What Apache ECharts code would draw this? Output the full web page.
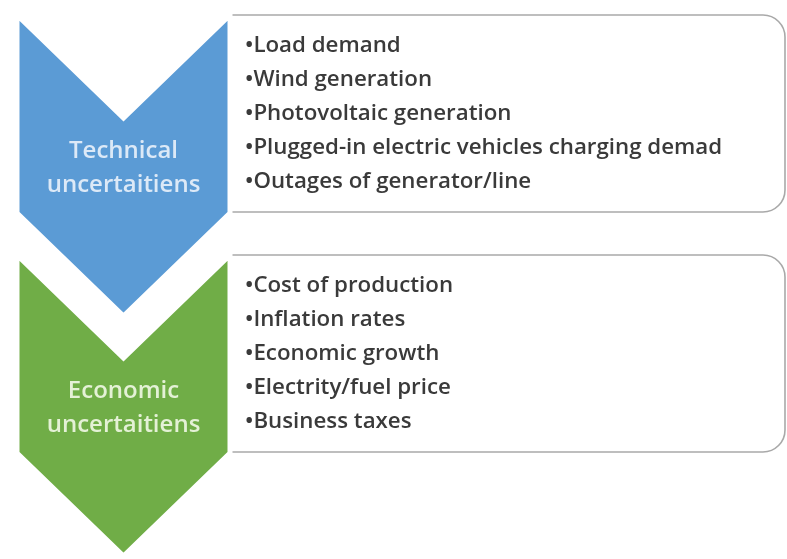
<!DOCTYPE html>
<html>
<head>
<meta charset="utf-8">
<script src="https://cdn.jsdelivr.net/npm/echarts@6/dist/echarts.min.js"></script>
<style>
  html, body { margin: 0; padding: 0; background: #fff; }
  #main { width: 787px; height: 559px; }
</style>
</head>
<body>
<div id="main"></div>
<script>
// 数据
var groupNames = ['Technical\nuncertaitiens', 'Economic\nuncertaitiens'];
var technicalItems = [
  'Load demand',
  'Wind generation',
  'Photovoltaic generation',
  'Plugged-in electric vehicles charging demad',
  'Outages of generator/line'
];
var economicItems = [
  'Cost of production',
  'Inflation rates',
  'Economic growth',
  'Electrity/fuel price',
  'Business taxes'
];
var groupItems = [technicalItems, economicItems];

// 样式
var fills = ['#5b9bd5', '#70ad47'];
var labelColors = ['#dce9f7', '#e4f1d6'];
var fontFamily = '"Open Sans", sans-serif';

var chart = echarts.init(document.getElementById('main'));

// 布局
var L = 17, CW = 213, TOP = 15, STEP = 240, BODY = 198, NOTCH = 103;
var BOX_R = 785, BOX_H = 197, LINE_H = 33.8;

function renderItem(params, api) {
  var i = params.dataIndex;
  var top = TOP + i * STEP;
  var mid = L + CW / 2;
  var right = L + CW;
  var children = [];

  // 右侧文本框
  children.push({
    type: 'rect',
    shape: { x: right, y: top, width: BOX_R - right, height: BOX_H, r: [0, 22, 22, 0] },
    style: { fill: '#fff', stroke: '#a9a9a9', lineWidth: 1.6 },
    z2: 1
  });
  groupItems[i].forEach(function (t, k) {
    children.push({
      type: 'text',
      style: {
        text: '\u2022' + t,
        x: right + 15,
        y: top + 31 + k * LINE_H,
        verticalAlign: 'middle',
        fill: '#3a3a3a',
        font: '600 22.3px ' + fontFamily
      },
      z2: 2
    });
  });

  // 箭头
  var z = (groupNames.length - i) * 10;
  children.push({
    type: 'polygon',
    shape: {
      points: [
        [L, top], [mid, top + NOTCH], [right, top],
        [right, top + BODY], [mid, top + BODY + NOTCH], [L, top + BODY]
      ]
    },
    style: { fill: fills[i], stroke: '#fff', lineWidth: 5, lineJoin: 'miter' },
    z2: z
  });
  children.push({
    type: 'text',
    style: {
      text: groupNames[api.value(0)],
      x: mid,
      y: top + 153,
      align: 'center',
      verticalAlign: 'middle',
      lineHeight: 34,
      fill: labelColors[i],
      font: '600 24px ' + fontFamily
    },
    z2: z + 1
  });

  return { type: 'group', children: children };
}

chart.setOption({
  backgroundColor: '#fff',
  animation: false,
  series: [{
    type: 'custom',
    coordinateSystem: 'none',
    renderItem: renderItem,
    data: groupNames.map(function (n, i) { return [i]; })
  }]
});
</script>
</body>
</html>
